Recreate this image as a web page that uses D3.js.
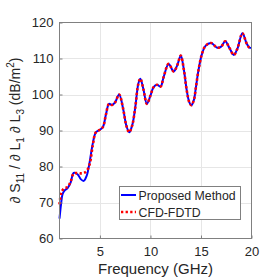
<!DOCTYPE html>
<html>
<head>
<meta charset="utf-8">
<script src="https://d3js.org/d3.v7.min.js"></script>
<style>
  body { margin: 0; background: #fff; }
  svg text { font-family: "Liberation Sans", Arial, sans-serif; fill: #262626; }
</style>
</head>
<body>
<div id="chart"></div>
<script>
// frequency samples (GHz)
var freq = [1, 1.15, 1.3, 1.5, 1.8, 2.1, 2.4, 2.8, 3.1, 3.4, 3.7, 4.0, 4.3, 4.6, 5.0, 5.3, 5.6, 5.9,
  6.2, 6.5, 6.9, 7.3, 7.6, 7.9, 8.2, 8.5, 8.8, 9.0, 9.3, 9.65, 10.0, 10.3, 10.65, 11.0, 11.3, 11.8,
  12.3, 12.65, 13.0, 13.3, 13.6, 13.85, 14.05, 14.3, 14.5, 14.75, 15.1, 15.45, 16.0, 16.6, 17.0,
  17.4, 17.8, 18.25, 18.6, 19.1, 19.5, 19.8, 20];

var proposed = [65.5, 69.5, 72.3, 73.3, 74.0, 75.5, 78.2, 77.8, 76.5, 76.0, 77.5, 81.5, 86.5, 89.5,
  90.2, 91.0, 94.5, 97.4, 97.1, 97.8, 100.0, 96.0, 91.5, 89.5, 91.5, 96.5, 103.0, 104.4, 101.5, 97.4,
  99.7, 102.0, 102.7, 102.2, 104.8, 108.5, 106.4, 108.1, 110.8, 107.0, 101.0, 97.8, 97.0, 98.5, 102.0,
  106.7, 111.3, 113.5, 114.3, 113.0, 113.3, 114.8, 113.0, 111.0, 112.7, 117.0, 114.3, 113.0, 113.0];

var cfdfdtd = [69.5, 72.4, 73.4, 74.0, 74.3, 75.8, 78.0, 78.2, 78.1, 78.2, 78.8, 80.8, 86.0, 89.5,
  90.2, 91.0, 94.5, 97.4, 97.1, 97.8, 100.0, 96.0, 91.5, 89.5, 91.5, 96.5, 103.0, 104.4, 101.5, 97.4,
  99.7, 102.0, 102.7, 102.2, 104.8, 108.5, 106.4, 108.1, 110.8, 107.0, 101.0, 97.8, 97.0, 98.5, 102.0,
  106.7, 111.3, 113.5, 114.3, 113.0, 113.3, 114.8, 113.0, 111.0, 112.7, 117.0, 114.3, 113.0, 113.0];

var xTicks = [5, 10, 15, 20];
var yTicks = [60, 70, 80, 90, 100, 110, 120];
var legendLabels = ["Proposed Method", "CFD-FDTD"];

var W = 278, H = 279;
var pl = 59.5, pr = 251.5, pt = 22.5, pb = 238.5;

var svg = d3.select("#chart").append("svg").attr("width", W).attr("height", H);

var x = d3.scaleLinear().domain([1, 20]).range([pl, pr]);
var y = d3.scaleLinear().domain([60, 120]).range([pb, pt]);

// grid
svg.append("g").selectAll("line").data(xTicks.filter(function(d) { return d < 20; }))
  .enter().append("line")
  .attr("x1", function(d) { return Math.round(x(d)) + 0.5; })
  .attr("x2", function(d) { return Math.round(x(d)) + 0.5; })
  .attr("y1", pt).attr("y2", pb)
  .attr("stroke", "#e6e6e6").attr("stroke-width", 1);
svg.append("g").selectAll("line").data(yTicks.filter(function(d) { return d > 60 && d < 120; }))
  .enter().append("line")
  .attr("y1", function(d) { return Math.round(y(d)) + 0.5; })
  .attr("y2", function(d) { return Math.round(y(d)) + 0.5; })
  .attr("x1", pl).attr("x2", pr)
  .attr("stroke", "#e6e6e6").attr("stroke-width", 1);

// curves
var line = d3.line()
  .x(function(d) { return x(d[0]); })
  .y(function(d) { return y(d[1]); })
  .curve(d3.curveCatmullRom.alpha(0.5));

svg.append("path")
  .datum(freq.map(function(f, i) { return [f, proposed[i]]; }))
  .attr("d", line).attr("fill", "none")
  .attr("stroke", "#0000ff").attr("stroke-width", 2);

svg.append("path")
  .datum(freq.map(function(f, i) { return [f, cfdfdtd[i]]; }))
  .attr("d", line).attr("fill", "none")
  .attr("stroke", "#ff0000").attr("stroke-width", 2.6)
  .attr("stroke-dasharray", "2.3,2.3");

// axes box
svg.append("rect").attr("x", pl).attr("y", pt)
  .attr("width", pr - pl).attr("height", pb - pt)
  .attr("fill", "none").attr("stroke", "#808080").attr("stroke-width", 1);

var xAxis = d3.axisBottom(x).tickValues(xTicks).tickSize(-3).tickPadding(8);
var gx = svg.append("g").attr("transform", "translate(0," + pb + ")").call(xAxis);
gx.select(".domain").remove();
gx.selectAll(".tick line").attr("stroke", "#808080");
gx.selectAll("text").attr("font-size", 13).attr("fill", "#262626")
  .style("font-family", "'Liberation Sans', Arial, sans-serif");

var yAxis = d3.axisLeft(y).tickValues(yTicks).tickSize(-3).tickPadding(6);
var gy = svg.append("g").attr("transform", "translate(" + pl + ",0)").call(yAxis);
gy.select(".domain").remove();
gy.selectAll(".tick line").attr("stroke", "#808080");
gy.selectAll("text").attr("font-size", 13).attr("fill", "#262626")
  .style("font-family", "'Liberation Sans', Arial, sans-serif");

// x label
svg.append("text").attr("x", (pl + pr) / 2).attr("y", 273.5)
  .attr("text-anchor", "middle").attr("font-size", 15).text("Frequency (GHz)");

// y label
var yl = svg.append("text")
  .attr("transform", "translate(20," + ((pt + pb) / 2) + ") rotate(-90)")
  .attr("text-anchor", "middle").attr("font-size", 14);
yl.append("tspan").style("font-style", "italic").text("\u2202");
yl.append("tspan").text(" S");
yl.append("tspan").attr("font-size", 10).attr("dy", 4).text("11");
yl.append("tspan").attr("dy", -4).text(" / ");
yl.append("tspan").style("font-style", "italic").text("\u2202");
yl.append("tspan").text(" L");
yl.append("tspan").attr("font-size", 10).attr("dy", 4).text("1");
yl.append("tspan").attr("dy", -4).text(" ");
yl.append("tspan").style("font-style", "italic").text("\u2202");
yl.append("tspan").text(" L");
yl.append("tspan").attr("font-size", 10).attr("dy", 4).text("3");
yl.append("tspan").attr("dy", -4).text(" (dB/m");
yl.append("tspan").attr("font-size", 10).attr("dy", -6).text("2");
yl.append("tspan").attr("dy", 6).text(")");

// legend
var lg = svg.append("g");
lg.append("rect").attr("x", 119.5).attr("y", 186.5).attr("width", 121).attr("height", 33)
  .attr("fill", "#fff").attr("stroke", "#808080").attr("stroke-width", 1);
var rows = [{c: "#0000ff", dash: null}, {c: "#ff0000", dash: "2.3,2.3"}];
rows.forEach(function(r, i) {
  var yy = 195 + i * 17;
  lg.append("line").attr("x1", 121).attr("x2", 136).attr("y1", yy).attr("y2", yy)
    .attr("stroke", r.c).attr("stroke-width", r.dash ? 2.6 : 2)
    .attr("stroke-dasharray", r.dash);
  lg.append("text").attr("x", 138.5).attr("y", yy + 4.5).attr("font-size", 12.3)
    .text(legendLabels[i]);
});
</script>
</body>
</html>
